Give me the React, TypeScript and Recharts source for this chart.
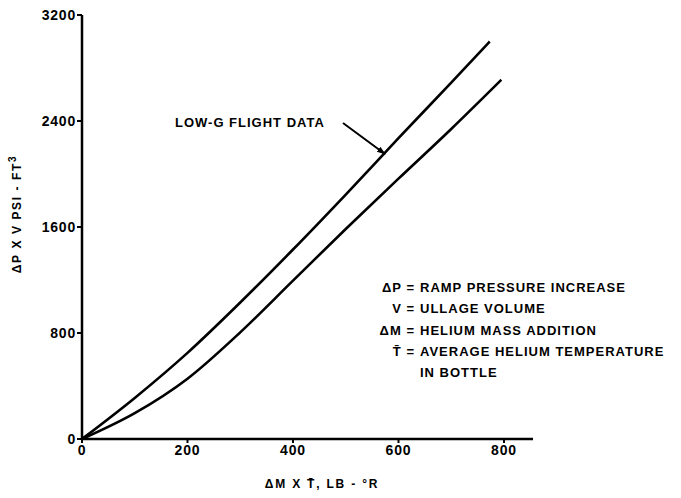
import React from "react";
import { LineChart, Line, XAxis, YAxis, Customized } from "recharts";

// LOW-G flight data curve (upper)
const flightX = [0, 100, 200, 300, 400, 500, 600, 700, 773];
const flightY = [0, 310, 650, 1030, 1430, 1845, 2270, 2690, 3000];

// second curve (lower)
const lowerX = [0, 100, 200, 300, 400, 500, 600, 700, 795];
const lowerY = [0, 195, 455, 805, 1195, 1585, 1965, 2340, 2711];

const xTicks = [0, 200, 400, 600, 800];
const yTicks = [0, 800, 1600, 2400, 3200];

const legendRows = [
  ["\u0394P =", "RAMP PRESSURE INCREASE"],
  ["V =", "ULLAGE VOLUME"],
  ["\u0394M =", "HELIUM MASS ADDITION"],
  ["T\u0304 =", "AVERAGE HELIUM TEMPERATURE"],
  ["", "IN BOTTLE"],
];

const flightData = flightX.map((x, i) => ({ x, y: flightY[i] }));
const lowerData = lowerX.map((x, i) => ({ x, y: lowerY[i] }));

const font = "'Liberation Sans', Arial, sans-serif";
const tickStyle = { fontSize: 14, fontWeight: 700, fill: "#000", fontFamily: font, letterSpacing: 0.8 };

function Annotations() {
  const txt = { fontFamily: font, fontWeight: 700, fontSize: 13, fill: "#000", letterSpacing: 1 };
  return (
    <g>
      <defs>
        <marker id="arrowHead" markerWidth="9" markerHeight="8" refX="8" refY="4" orient="auto" markerUnits="userSpaceOnUse">
          <path d="M0,1 L9,4 L0,7 Z" fill="#000" />
        </marker>
      </defs>
      <text x={175} y={127} {...txt}>LOW-G FLIGHT DATA</text>
      <line x1={343} y1={123} x2={385} y2={154} stroke="#000" strokeWidth={2} markerEnd="url(#arrowHead)" />
      {legendRows.map(([k, v], i) => {
        const y = [292, 313, 335, 356, 377][i];
        return (
          <g key={i}>
            {k && <text x={415} y={y} textAnchor="end" {...txt}>{k}</text>}
            <text x={420} y={y} {...txt}>{v}</text>
          </g>
        );
      })}
      <text x={322} y={488} textAnchor="middle" {...txt} fontSize={12} letterSpacing={1.8}>
        {"\u0394M X T\u0304, LB - \u00B0R"}
      </text>
      <text x={21} y={214} textAnchor="middle" transform="rotate(-90 21 214)" {...txt} fontSize={12} letterSpacing={1.6}>
        {"\u0394P X V  PSI - FT"}
        <tspan dy={-5} fontSize={10}>3</tspan>
      </text>
    </g>
  );
}

export default function App() {
  return (
    <div style={{ position: "absolute", left: 0, top: 0, background: "#fff" }}>
      <LineChart width={681} height={498} margin={{ top: 15, right: 148, left: 0, bottom: 29 }}>
        <XAxis
          type="number"
          dataKey="x"
          domain={[0, 855]}
          ticks={xTicks}
          allowDataOverflow
          tick={tickStyle}
          tickSize={4}
          tickMargin={2}
          height={30}
          axisLine={{ stroke: "#000", strokeWidth: 2.5 }}
          tickLine={{ stroke: "#000", strokeWidth: 2 }}
        />
        <YAxis
          type="number"
          dataKey="y"
          domain={[0, 3200]}
          ticks={yTicks}
          allowDataOverflow
          width={82}
          tick={tickStyle}
          tickSize={5}
          tickMargin={1}
          axisLine={{ stroke: "#000", strokeWidth: 2.5 }}
          tickLine={{ stroke: "#000", strokeWidth: 2 }}
        />
        <Line data={flightData} dataKey="y" type="monotone" stroke="#000" strokeWidth={2.6} dot={false} isAnimationActive={false} />
        <Line data={lowerData} dataKey="y" type="monotone" stroke="#000" strokeWidth={2.6} dot={false} isAnimationActive={false} />
        <Customized component={<Annotations />} />
      </LineChart>
    </div>
  );
}
